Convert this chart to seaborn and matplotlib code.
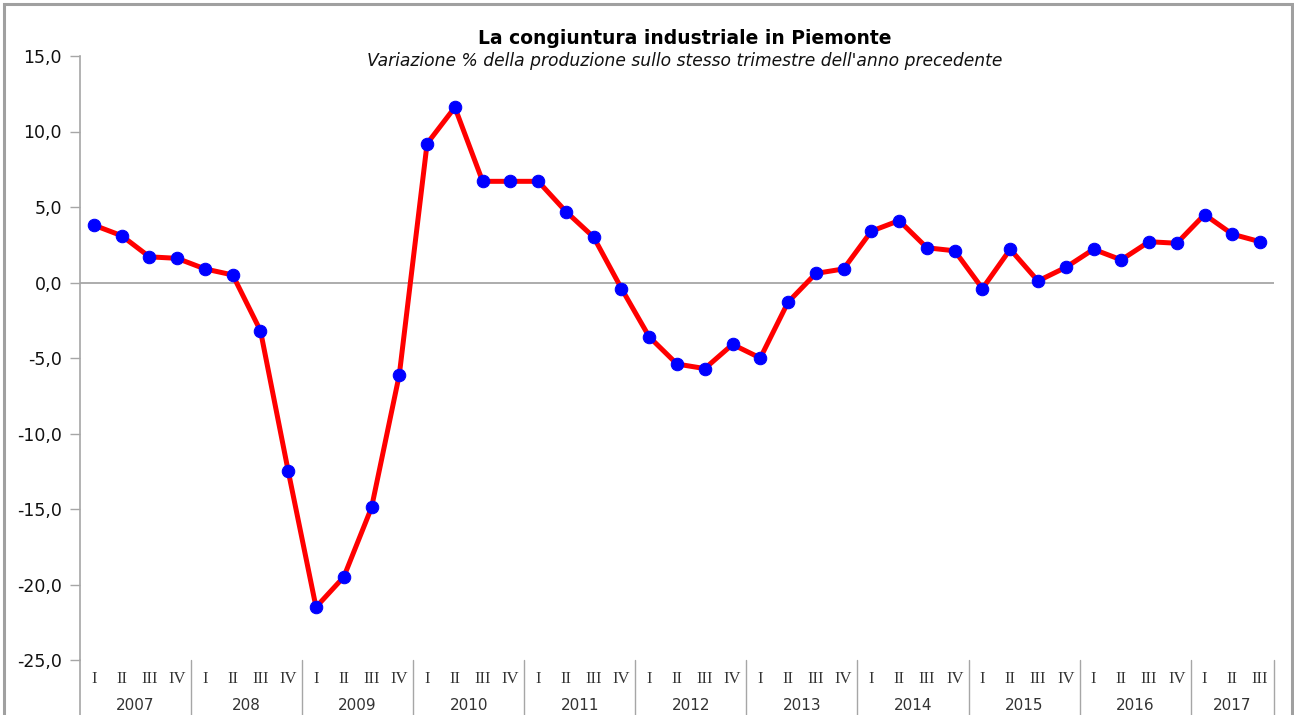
import numpy as np
import pandas as pd
import matplotlib
matplotlib.use("Agg")
import matplotlib.pyplot as plt
import matplotlib.transforms as mtransforms
from matplotlib.patches import Rectangle
import seaborn as sns

# data
years = ["2007", "208", "2009", "2010", "2011", "2012", "2013", "2014", "2015", "2016", "2017"]
quarters_per_year = [4, 4, 4, 4, 4, 4, 4, 4, 4, 4, 3]
quarter_names = ["I", "II", "III", "IV"]
variazione = [3.8, 3.1, 1.7, 1.6,
              0.9, 0.5, -3.2, -12.5,
              -21.5, -19.5, -14.9, -6.1,
              9.2, 11.6, 6.7, 6.7,
              6.7, 4.7, 3.0, -0.4,
              -3.6, -5.4, -5.7, -4.1,
              -5.0, -1.3, 0.6, 0.9,
              3.4, 4.1, 2.3, 2.1,
              -0.4, 2.2, 0.1, 1.0,
              2.2, 1.5, 2.7, 2.6,
              4.5, 3.2, 2.7]
y_ticks = [15, 10, 5, 0, -5, -10, -15, -20, -25]
y_tick_labels = ["15,0", "10,0", "5,0", "0,0", "-5,0", "-10,0", "-15,0", "-20,0", "-25,0"]

quarter_labels = [quarter_names[q] for n in quarters_per_year for q in range(n)]
df = pd.DataFrame({"pos": np.arange(len(variazione)), "val": variazione})

sns.set_style("white")
plt.rcParams["font.family"] = ["DejaVu Sans"]
plt.rcParams["text.color"] = "black"

fig = plt.figure(figsize=(12.94, 7.15), dpi=100)
ax = fig.add_axes([80 / 1294, 1 - 660 / 715, (1274 - 80) / 1294, (660 - 56) / 715])

grey = "#a6a6a6"
ax.axhline(0, color=grey, lw=1.3, zorder=1)

sns.lineplot(data=df, x="pos", y="val", ax=ax, color="#ff0000", linewidth=3.6,
             marker="o", markersize=9, markerfacecolor="#0000ff",
             markeredgecolor="#0000ff", zorder=3)

ax.set_xlim(-0.5, len(variazione) - 0.5)
ax.set_ylim(-25, 15)
ax.set_yticks(y_ticks)
ax.set_yticklabels(y_tick_labels, fontsize=12.5, color="#111111")
ax.tick_params(axis="y", length=7, width=1, color=grey, pad=6, left=True)
ax.set_xticks(df["pos"])
ax.set_xticklabels(quarter_labels, family="Liberation Serif", fontsize=12, color="#333333")
ax.tick_params(axis="x", length=0, pad=8)
ax.set_xlabel("")
ax.set_ylabel("")

for s in ["top", "right", "bottom"]:
    ax.spines[s].set_visible(False)
ax.spines["left"].set_color(grey)
ax.spines["left"].set_linewidth(1.2)

# category axis: year separators and year labels
trans = mtransforms.blended_transform_factory(ax.transData, ax.transAxes)
low = -60 / 604
ax.plot([-0.5, -0.5], [0, low], transform=trans, color=grey, lw=1.2, clip_on=False)
start = 0
for yr, n in zip(years, quarters_per_year):
    end = start + n
    ax.plot([end - 0.5, end - 0.5], [0, low], transform=trans, color=grey, lw=1.0, clip_on=False)
    ax.text((start + end - 1) / 2, -46 / 604, yr, transform=trans, ha="center", va="center",
            fontsize=11, color="#333333")
    start = end

fig.text(685 / 1294, 1 - 38 / 715, "La congiuntura industriale in Piemonte",
         ha="center", va="center", fontsize=13.5, fontweight="bold", color="black")
fig.text(685 / 1294, 1 - 61 / 715,
         "Variazione % della produzione sullo stesso trimestre dell'anno precedente",
         ha="center", va="center", fontsize=12.3, style="italic", color="#111111")

fig.patches.append(Rectangle((4 / 1294, -0.05), 1288 / 1294, 1.05 - 4 / 715,
                             transform=fig.transFigure, fill=False,
                             edgecolor="#a0a0a0", lw=2.2))

fig.savefig("out.png", dpi=100)
